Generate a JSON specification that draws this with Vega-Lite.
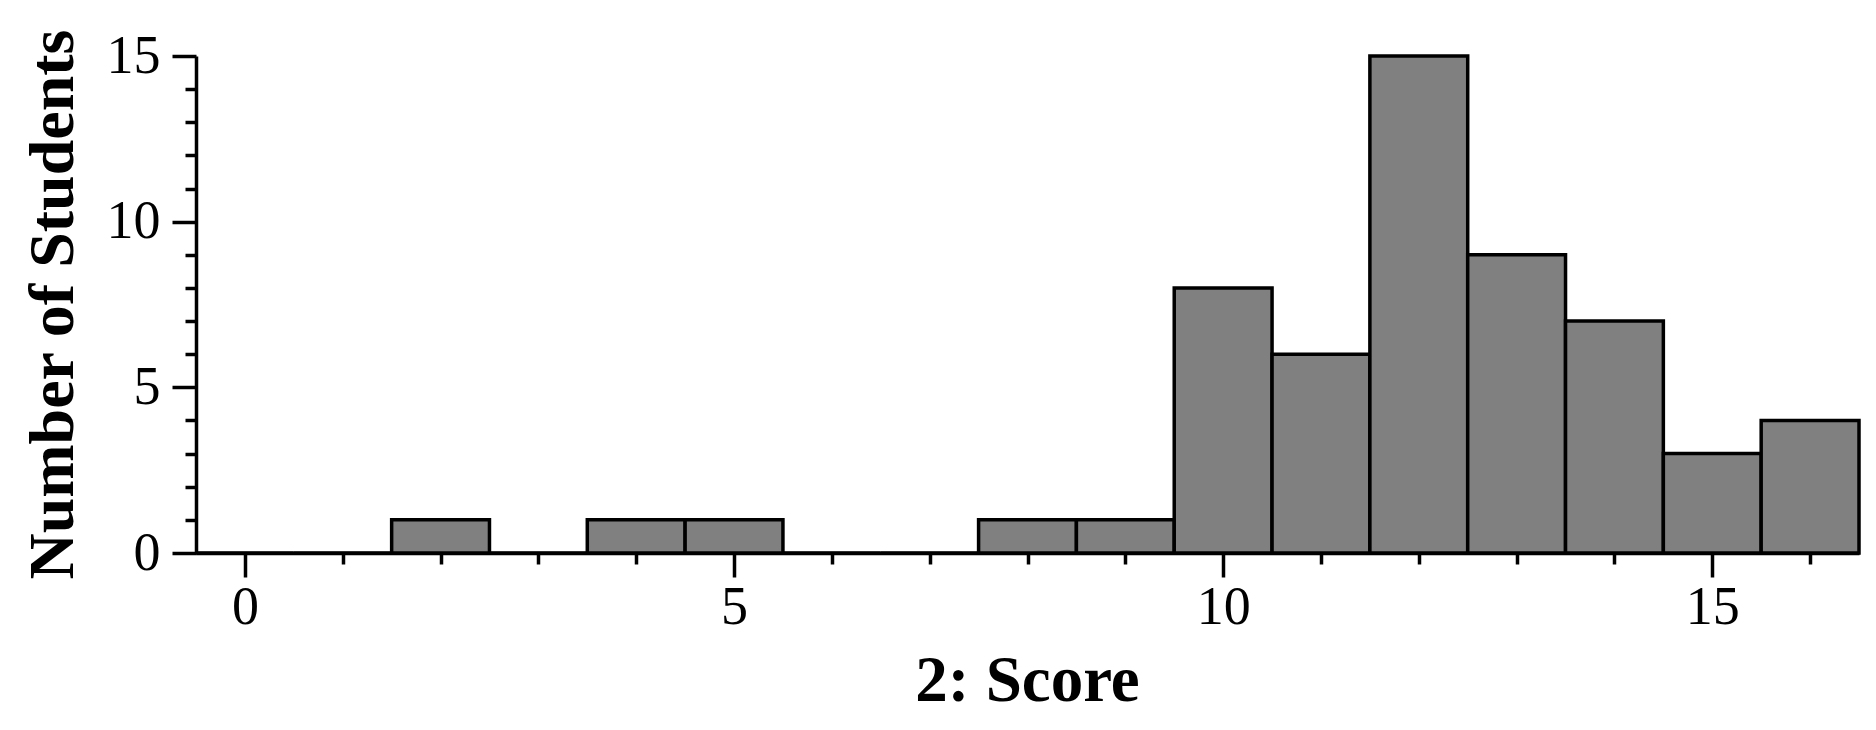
{
  "$schema": "https://vega.github.io/schema/vega-lite/v6.json",
  "autosize": "none",
  "width": 1663,
  "height": 497,
  "padding": {"left": 196, "top": 56, "right": 17, "bottom": 177},
  "background": "white",
  "config": {
    "view": {"stroke": null},
    "font": "Liberation Serif"
  },
  "data": {
    "values": [
      {"bin_start": -0.5, "bin_end": 0.5, "count": 0},
      {"bin_start": 0.5, "bin_end": 1.5, "count": 0},
      {"bin_start": 1.5, "bin_end": 2.5, "count": 1},
      {"bin_start": 2.5, "bin_end": 3.5, "count": 0},
      {"bin_start": 3.5, "bin_end": 4.5, "count": 1},
      {"bin_start": 4.5, "bin_end": 5.5, "count": 1},
      {"bin_start": 5.5, "bin_end": 6.5, "count": 0},
      {"bin_start": 6.5, "bin_end": 7.5, "count": 0},
      {"bin_start": 7.5, "bin_end": 8.5, "count": 1},
      {"bin_start": 8.5, "bin_end": 9.5, "count": 1},
      {"bin_start": 9.5, "bin_end": 10.5, "count": 8},
      {"bin_start": 10.5, "bin_end": 11.5, "count": 6},
      {"bin_start": 11.5, "bin_end": 12.5, "count": 15},
      {"bin_start": 12.5, "bin_end": 13.5, "count": 9},
      {"bin_start": 13.5, "bin_end": 14.5, "count": 7},
      {"bin_start": 14.5, "bin_end": 15.5, "count": 3},
      {"bin_start": 15.5, "bin_end": 16.5, "count": 4}
    ]
  },
  "mark": {"type": "bar", "fill": "#808080", "stroke": "black", "strokeWidth": 3.5, "strokeJoin": "miter"},
  "encoding": {
    "x": {
      "field": "bin_start",
      "type": "quantitative",
      "scale": {"domain": [-0.5, 16.5], "nice": false, "zero": false},
      "axis": {
        "title": "2: Score",
        "values": [0,1,2,3,4,5,6,7,8,9,10,11,12,13,14,15,16],
        "tickSize": {"condition": {"test": "datum.value % 5 === 0", "value": 24}, "value": 11},
        "tickWidth": 3.5,
        "tickColor": "black",
        "domainColor": "black",
        "domainWidth": 3.5,
        "grid": false,
        "labelExpr": "datum.value % 5 === 0 ? datum.label : ''",
        "labelFont": "Liberation Serif",
        "labelFontSize": 54,
        "labelColor": "black",
        "labelPadding": 3,
        "labelFlush": false,
        "labelOverlap": false,
        "titleFont": "Liberation Serif",
        "titleFontSize": 65,
        "titleFontWeight": "bold",
        "titleColor": "black",
        "titleX": 831,
        "titleY": 147,
        "titleAlign": "center",
        "titleBaseline": "alphabetic"
      }
    },
    "x2": {"field": "bin_end"},
    "y": {
      "field": "count",
      "type": "quantitative",
      "scale": {"domain": [0, 15], "nice": false},
      "axis": {
        "title": "Number of Students",
        "values": [0,1,2,3,4,5,6,7,8,9,10,11,12,13,14,15],
        "tickSize": {"condition": {"test": "datum.value % 5 === 0", "value": 24}, "value": 11},
        "tickWidth": 3.5,
        "tickColor": "black",
        "domainColor": "black",
        "domainWidth": 3.5,
        "grid": false,
        "labelExpr": "datum.value % 5 === 0 ? datum.label : ''",
        "labelFont": "Liberation Serif",
        "labelFontSize": 54,
        "labelColor": "black",
        "labelPadding": 12,
        "labelFlush": false,
        "labelOverlap": false,
        "titleFont": "Liberation Serif",
        "titleFontSize": 64,
        "titleFontWeight": "bold",
        "titleColor": "black",
        "titleAngle": -90,
        "titleX": -124,
        "titleY": 248,
        "titleAlign": "center",
        "titleBaseline": "alphabetic"
      }
    },
    "y2": {"datum": 0}
  }
}
